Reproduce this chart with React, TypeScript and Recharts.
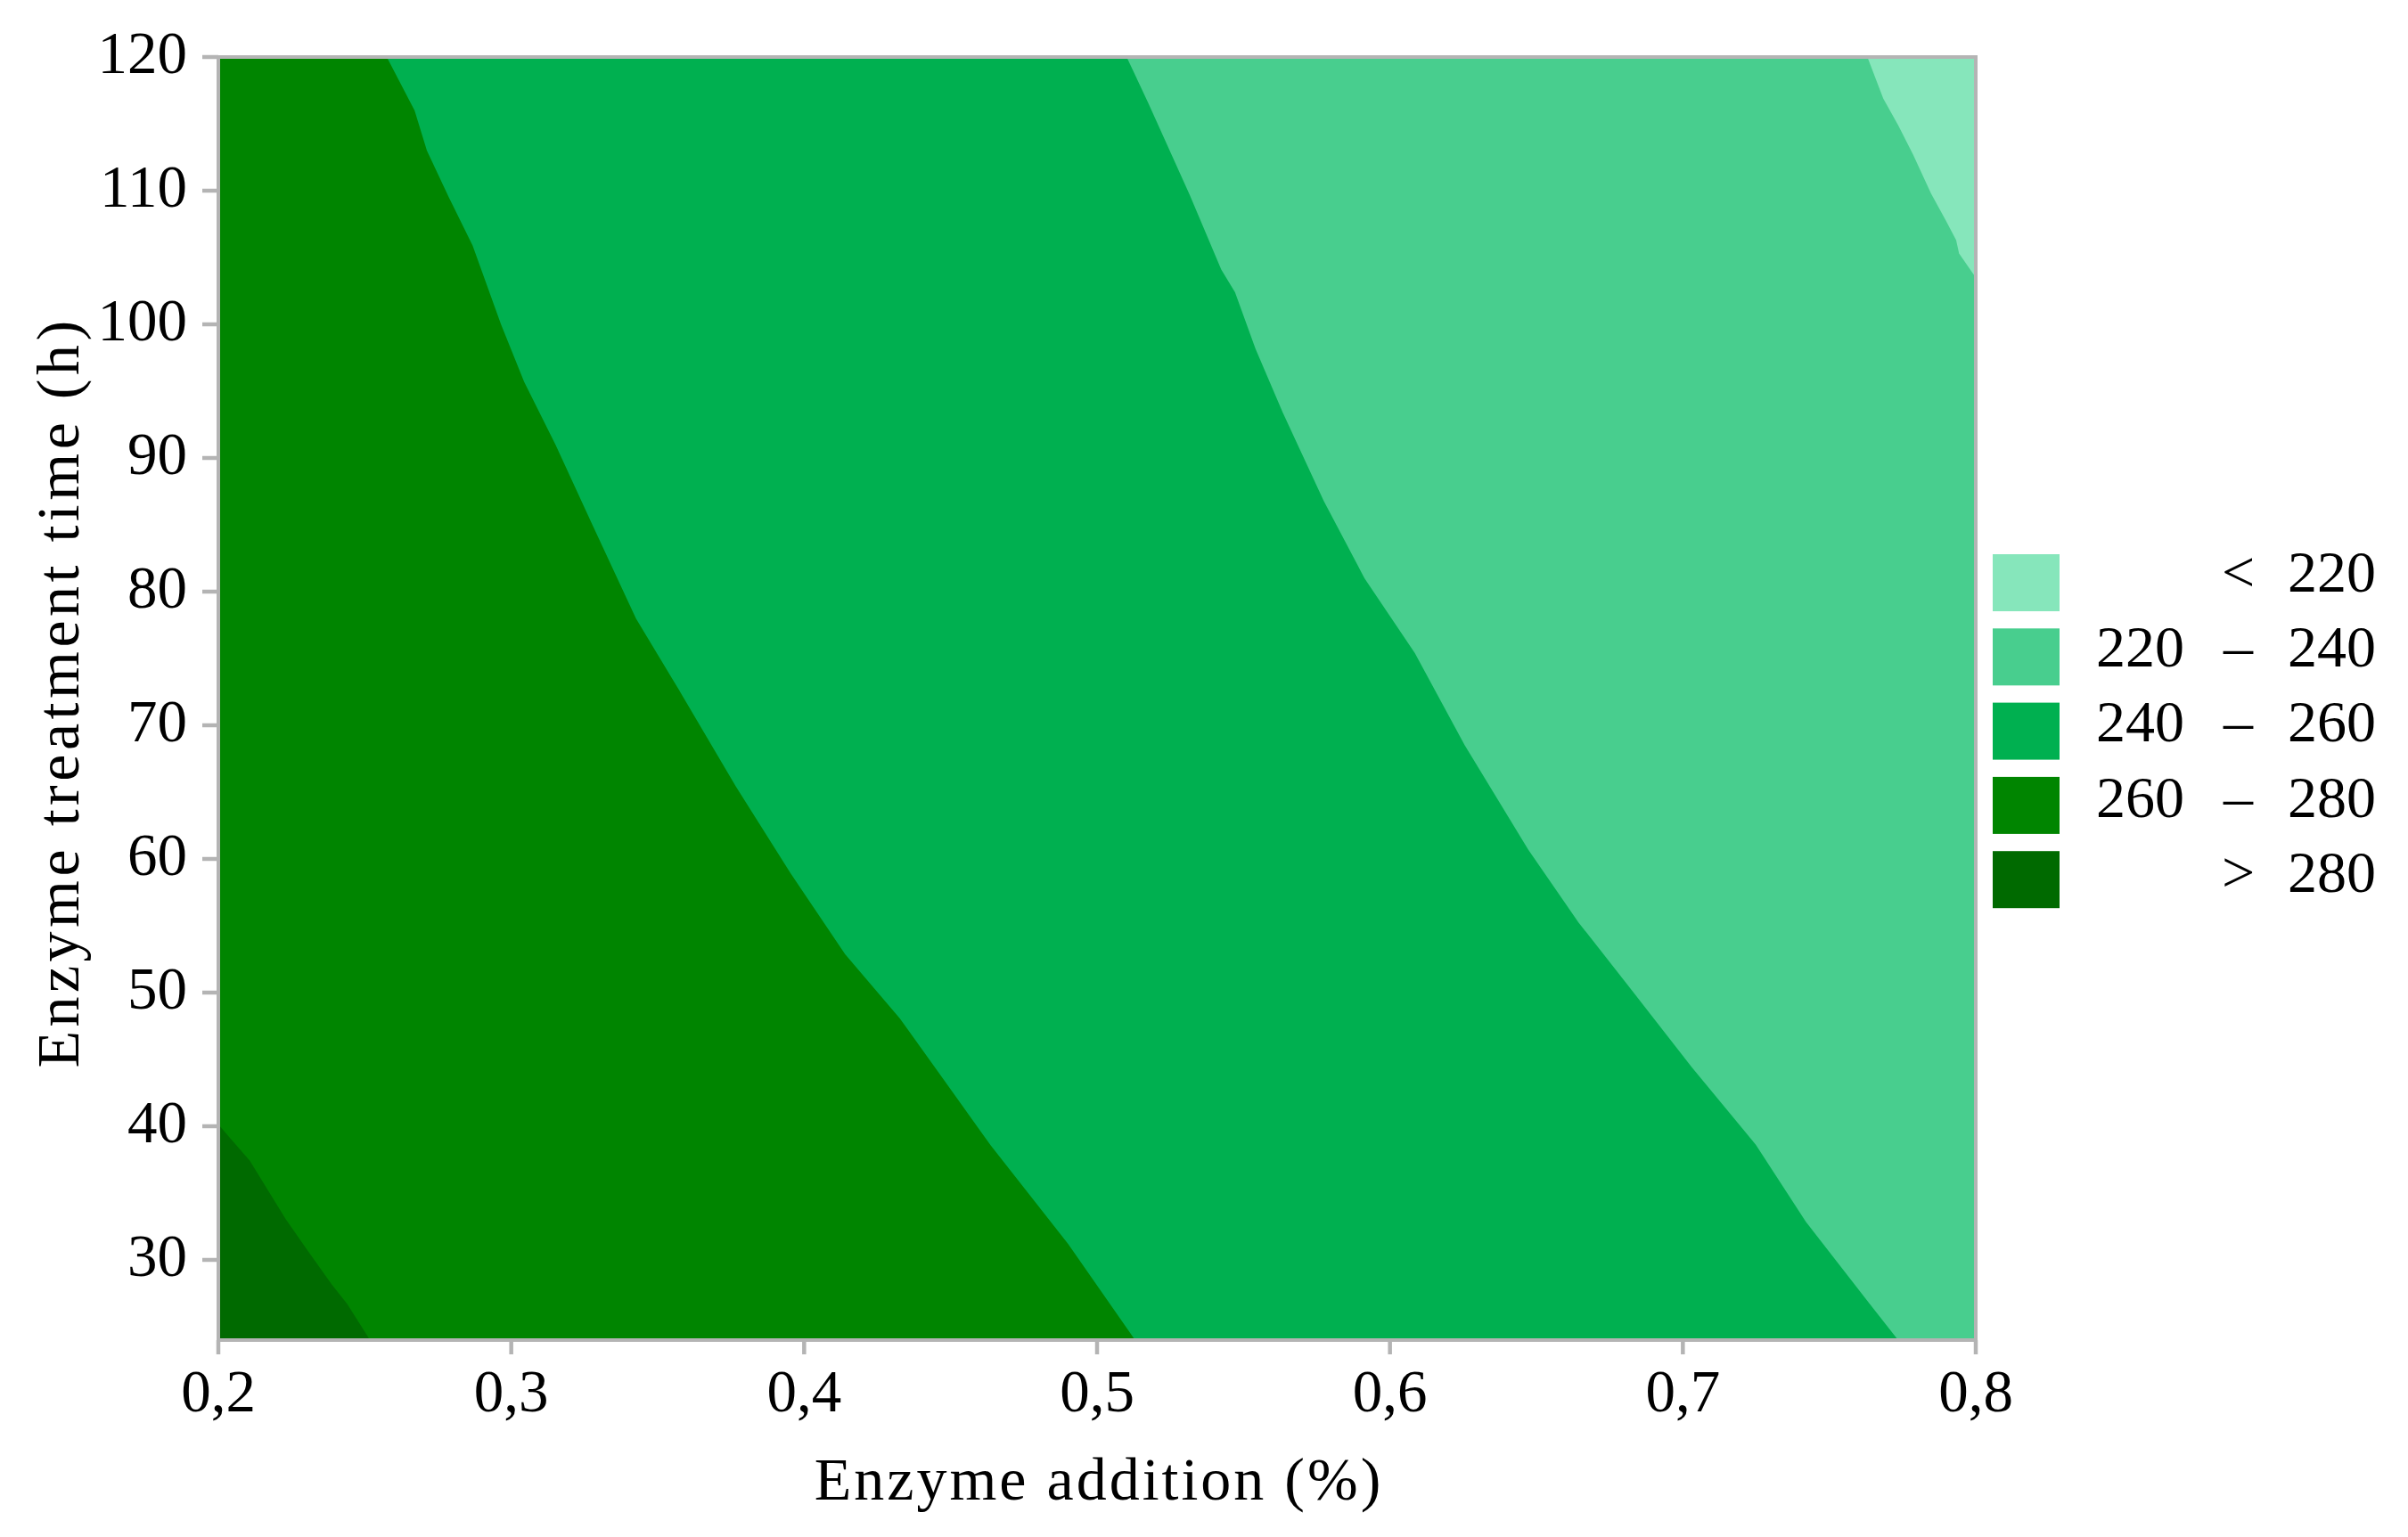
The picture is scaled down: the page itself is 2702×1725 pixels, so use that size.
import React from 'react';
import { ComposedChart, Area, XAxis, YAxis, ReferenceArea, Legend, Label } from 'recharts';

// Axis ticks
const ADDITION_TICKS = [0.2, 0.3, 0.4, 0.5, 0.6, 0.7, 0.8];
const TIME_TICKS = [30, 40, 50, 60, 70, 80, 90, 100, 110, 120];

// Legend
const LEVEL_FROM = ['', '220', '240', '260', ''];
const LEVEL_SIGN = ['<', '–', '–', '–', '>'];
const LEVEL_TO = ['220', '240', '260', '280', '280'];
const LEVEL_COLORS = ['#86E6BB', '#48CE8E', '#00B050', '#008500', '#006A00'];

// Contour boundaries: t = enzyme treatment time (h), a = enzyme addition (%)
// Everything left of a boundary is above that level.
const EDGE_RIGHT = [
  { t: 24, a: 0.8 },
  { t: 120, a: 0.8 },
];
const BOUNDARY_220 = [
  { t: 24, a: 0.8 },
  { t: 103.5, a: 0.8 },
  { t: 105.3, a: 0.7943 },
  { t: 106.3, a: 0.7933 },
  { t: 107.8, a: 0.7897 },
  { t: 109.8, a: 0.7847 },
  { t: 112.7, a: 0.7786 },
  { t: 114.9, a: 0.7735 },
  { t: 116.9, a: 0.7684 },
  { t: 120, a: 0.763 },
];
const BOUNDARY_240 = [
  { t: 24, a: 0.7735 },
  { t: 26.73, a: 0.7637 },
  { t: 32.85, a: 0.742 },
  { t: 38.62, a: 0.7249 },
  { t: 44.4, a: 0.7031 },
  { t: 50.5, a: 0.6814 },
  { t: 55.27, a: 0.6643 },
  { t: 60.7, a: 0.6472 },
  { t: 68.52, a: 0.6255 },
  { t: 75.4, a: 0.6085 },
  { t: 81.0, a: 0.5913 },
  { t: 86.78, a: 0.5774 },
  { t: 93.4, a: 0.5634 },
  { t: 98.16, a: 0.5541 },
  { t: 102.4, a: 0.5471 },
  { t: 104.1, a: 0.5424 },
  { t: 109.7, a: 0.5316 },
  { t: 116.5, a: 0.5176 },
  { t: 120, a: 0.5101 },
];
const BOUNDARY_260 = [
  { t: 24, a: 0.513 },
  { t: 31.2, a: 0.4901 },
  { t: 38.56, a: 0.4637 },
  { t: 43.32, a: 0.4482 },
  { t: 48.09, a: 0.4326 },
  { t: 52.86, a: 0.414 },
  { t: 58.92, a: 0.3954 },
  { t: 65.41, a: 0.3767 },
  { t: 72.34, a: 0.3581 },
  { t: 77.98, a: 0.3426 },
  { t: 85.34, a: 0.327 },
  { t: 91.0, a: 0.3151 },
  { t: 95.7, a: 0.3044 },
  { t: 100, a: 0.2965 },
  { t: 105.9, a: 0.2868 },
  { t: 109.5, a: 0.2787 },
  { t: 113.0, a: 0.2712 },
  { t: 116.0, a: 0.267 },
  { t: 120, a: 0.2575 },
];
const BOUNDARY_280 = [
  { t: 24, a: 0.2518 },
  { t: 26.7, a: 0.244 },
  { t: 28.16, a: 0.2387 },
  { t: 30.85, a: 0.23 },
  { t: 33.05, a: 0.223 },
  { t: 37.44, a: 0.2107 },
  { t: 40.13, a: 0.2 },
  { t: 120, a: 0.2 },
];

const REGIONS = [EDGE_RIGHT, BOUNDARY_220, BOUNDARY_240, BOUNDARY_260, BOUNDARY_280];

const GREY = '#B4B4B4';
const FONT = '"Liberation Serif", "Times New Roman", serif';

const XTick = (props: any) => {
  const { x, y, payload } = props;
  return (
    <text x={x} y={y} dy={62} textAnchor="middle" fontFamily={FONT} fontSize={67} fill="#000">
      {Number(payload.value).toFixed(1).replace('.', ',')}
    </text>
  );
};

const YTick = (props: any) => {
  const { x, y, payload } = props;
  return (
    <text x={x} y={y} dy={18} textAnchor="end" fontFamily={FONT} fontSize={67} fill="#000">
      {payload.value}
    </text>
  );
};

const XTitle = (props: any) => {
  const vb = props.viewBox || {};
  return (
    <text
      x={vb.x + vb.width / 2 + 2}
      y={vb.y + 179}
      textAnchor="middle"
      fontFamily={FONT}
      fontSize={68}
      letterSpacing={3}
      fill="#000"
    >
      Enzyme addition (%)
    </text>
  );
};

const YTitle = (props: any) => {
  const vb = props.viewBox || {};
  const cx = 80;
  const cy = vb.y + vb.height / 2 - 7;
  return (
    <text
      x={cx}
      y={cy}
      transform={`rotate(-90, ${cx}, ${cy})`}
      textAnchor="middle"
      fontFamily={FONT}
      fontSize={68}
      letterSpacing={4.5}
      fill="#000"
    >
      Enzyme treatment time (h)
    </text>
  );
};

const LEG_TOP = 20;

const LegendBox = () => (
  <svg width={460} height={440} style={{ display: 'block', overflow: 'visible' }}>
    {LEVEL_COLORS.map((c, i) => (
      <g key={i}>
        <rect x={8} y={LEG_TOP + 14 + i * 83.3} width={75} height={64} fill={c} />
        <text x={223} y={LEG_TOP + 56 + i * 84.2} textAnchor="end" fontFamily={FONT} fontSize={66} fill="#000">
          {LEVEL_FROM[i]}
        </text>
        <text x={283.5} y={LEG_TOP + 56 + i * 84.2} textAnchor="middle" fontFamily={FONT} fontSize={66} fill="#000">
          {LEVEL_SIGN[i]}
        </text>
        <text x={438} y={LEG_TOP + 56 + i * 84.2} textAnchor="end" fontFamily={FONT} fontSize={66} fill="#000">
          {LEVEL_TO[i]}
        </text>
      </g>
    ))}
  </svg>
);

export default function App() {
  return (
    <div style={{ width: 2686, height: 1709 }}>
      <ComposedChart
        width={2686}
        height={1709}
        layout="vertical"
        margin={{ top: 56, right: 477, bottom: 0, left: 0 }}
      >
        <XAxis
          type="number"
          domain={[0.2, 0.8]}
          ticks={ADDITION_TICKS}
          interval={0}
          allowDataOverflow
          height={213}
          axisLine={{ stroke: GREY, strokeWidth: 4 }}
          tickLine={{ stroke: GREY, strokeWidth: 4.5 }}
          tickSize={16}
          tickMargin={2}
          tick={<XTick />}
        >
          <Label content={<XTitle />} />
        </XAxis>
        <YAxis
          type="number"
          dataKey="t"
          domain={[24, 120]}
          ticks={TIME_TICKS}
          interval={0}
          allowDataOverflow
          reversed
          width={237}
          axisLine={{ stroke: GREY, strokeWidth: 4 }}
          tickLine={{ stroke: GREY, strokeWidth: 4.5 }}
          tickSize={18}
          tickMargin={17}
          tick={<YTick />}
        >
          <Label content={<YTitle />} />
        </YAxis>
        {REGIONS.map((region, i) => (
          <Area
            key={i}
            data={region}
            dataKey="a"
            type="linear"
            baseValue="dataMin"
            fill={LEVEL_COLORS[i]}
            fillOpacity={1}
            stroke="none"
            dot={false}
            activeDot={false}
            legendType="none"
            isAnimationActive={false}
          />
        ))}
        <ReferenceArea x1={0.2} x2={0.8} y1={24} y2={120} fill="none" stroke={GREY} strokeWidth={4} />
        <Legend
          layout="vertical"
          align="center"
          verticalAlign="middle"
          wrapperStyle={{ left: 2220, top: 600 - LEG_TOP, width: 460, height: 440 }}
          content={() => <LegendBox />}
        />
      </ComposedChart>
    </div>
  );
}
